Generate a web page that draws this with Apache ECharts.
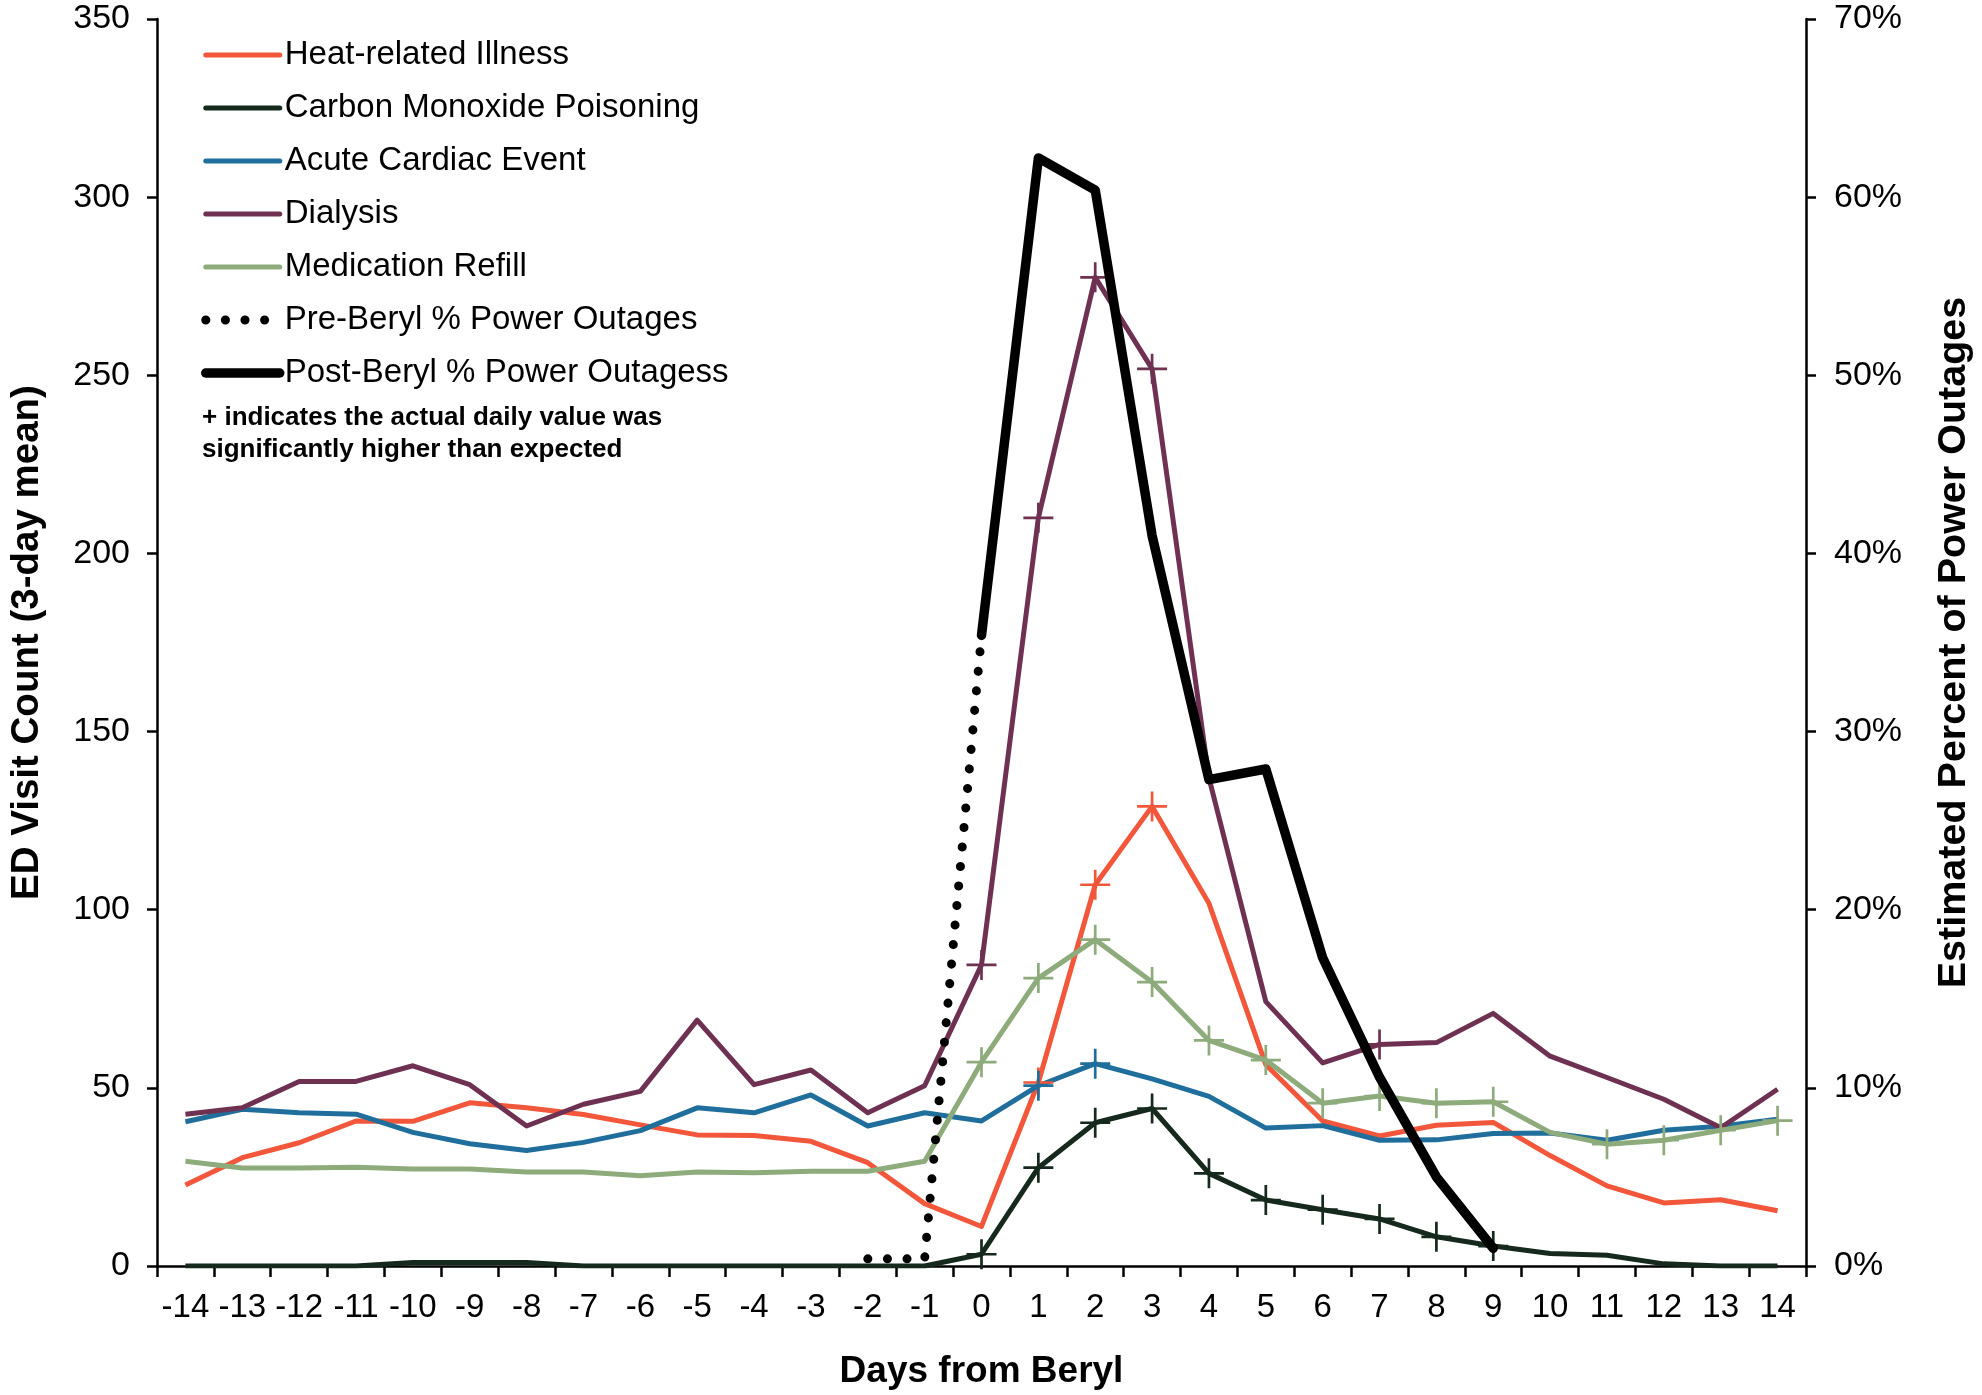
<!DOCTYPE html>
<html><head><meta charset="utf-8">
<script src="https://cdn.jsdelivr.net/npm/echarts@6/dist/echarts.min.js"></script>
<style>html,body{margin:0;padding:0;background:#fff}#c{width:1982px;height:1395px}</style>
</head><body><div id="c"></div>
<script>
const days = ['-14','-13','-12','-11','-10','-9','-8','-7','-6','-5','-4','-3','-2','-1','0','1','2','3','4','5','6','7','8','9','10','11','12','13','14'];
const countTicks = [0, 50, 100, 150, 200, 250, 300, 350];
const heat = [22.7,30.4,34.6,40.7,40.6,45.8,44.4,42.5,39.6,36.8,36.6,35.0,29.0,17.5,11.1,51.5,107,129,101.8,56.5,40.7,36.5,39.5,40.3,31.0,22.5,17.7,18.6,15.5];
const carbonMonoxide = [0,0,0,0,1,1,1,0,0,0,0,0,0,0,3.3,27.6,40.2,44.2,26,18.5,15.8,13.2,8.2,5.6,3.5,3.0,0.6,0,0];
const cardiac = [40.5,44,43,42.6,37.5,34.3,32.4,34.7,38,44.4,43,48,39.3,43,40.7,50.6,56.8,52.5,47.6,38.7,39.4,35.3,35.4,37.2,37.3,35.3,38.1,39.2,41.2];
const dialysis = [42.6,44.4,51.8,51.8,56.2,50.9,39.3,45.4,49,69,50.9,55,43,50.6,84.5,210,277.5,251.8,137,74.2,57,62.2,62.7,70.9,58.9,52.9,46.8,38.8,49.6];
const medRefill = [29.4,27.5,27.5,27.7,27.2,27.2,26.4,26.4,25.3,26.4,26.2,26.6,26.6,29.4,57.2,80.8,91.6,79.7,63.3,57.8,45.7,47.7,45.7,46.1,37.5,34.2,35.3,38.1,40.8];
const preOutage = [null,null,null,null,null,null,null,null,null,null,null,null,0.4,0.4,35.4,null,null,null,null,null,null,null,null,null,null,null,null,null,null];
const postOutage = [null,null,null,null,null,null,null,null,null,null,null,null,null,null,35.4,62.2,60.4,41.0,27.3,27.9,17.3,10.6,5.0,1.0,null,null,null,null,null];
// days (from Beryl) where the actual daily value was significantly higher than expected
const heatSig = [1,2,3];
const coSig = [0,1,2,3,4,5,6,7,8,9];
const cardiacSig = [1,2];
const dialysisSig = [0,1,2,3,7];
const medSig = [0,1,2,3,4,5,6,7,8,9,11,12,13,14];

const PLUS = 'path://M-0.9,-10 L0.9,-10 L0.9,-0.9 L10,-0.9 L10,0.9 L0.9,0.9 L0.9,10 L-0.9,10 L-0.9,0.9 L-10,0.9 L-10,-0.9 L-0.9,-0.9 Z';
function marked(values, sig) {
  return values.map((v, i) => {
    const d = Number(days[i]);
    return sig.indexOf(d) >= 0 ? { value: v, symbol: PLUS, symbolSize: 30 } : { value: v, symbol: 'none' };
  });
}
const FONT = '"Liberation Sans", Arial, sans-serif';
function lineSeries(name, color, values, sig) {
  return {
    name, type: 'line', yAxisIndex: 0, data: marked(values, sig),
    symbol: 'none', showSymbol: true,
    lineStyle: { color, width: 5, join: 'round' },
    itemStyle: { color, borderWidth: 0 },
    emphasis: { disabled: true }, animation: false, z: 3
  };
}
const chart = echarts.init(document.getElementById('c'), null, { renderer: 'canvas' });
chart.setOption({
  backgroundColor: '#ffffff',
  animation: false,
  textStyle: { fontFamily: FONT, color: '#000' },
  grid: { left: 152, right: 160, top: 19, bottom: 113, containLabel: false },
  legend: {
    orient: 'vertical', left: 196, top: 30,
    itemWidth: 74, itemHeight: 16, itemGap: 13,
    textStyle: { fontFamily: FONT, fontSize: 33, color: '#000', lineHeight: 40 },
    itemStyle: { opacity: 0 },
    lineStyle: { width: 'inherit', type: 'inherit', cap: 'round' },
    data: ['Heat-related Illness','Carbon Monoxide Poisoning','Acute Cardiac Event','Dialysis','Medication Refill','Pre-Beryl % Power Outages','Post-Beryl % Power Outagess'],
    selectedMode: false
  },
  graphic: [{
    type: 'text', left: 202, top: 402,
    style: { text: '+ indicates the actual daily value was\nsignificantly higher than expected', font: 'bold 26px ' + FONT, fill: '#000', lineHeight: 32 }
  }],
  xAxis: {
    type: 'category', data: days, boundaryGap: true,
    name: 'Days from Beryl', nameLocation: 'middle', nameGap: 87,
    nameTextStyle: { fontFamily: FONT, fontSize: 37, fontWeight: 'bold', color: '#000' },
    axisLine: { onZero: false, lineStyle: { color: '#000', width: 2.5 } },
    axisTick: { show: true, length: 11, inside: false, lineStyle: { color: '#000', width: 2.5 } },
    axisLabel: { interval: 0, margin: 25, fontSize: 33, color: '#000', fontFamily: FONT },
    splitLine: { show: false }
  },
  yAxis: [{
    type: 'value', min: 0, max: 350, interval: 50, position: 'left',
    name: 'ED Visit Count (3-day mean)', nameLocation: 'middle', nameGap: 110, nameRotate: 90,
    nameTextStyle: { fontFamily: FONT, fontSize: 38.5, fontWeight: 'bold', color: '#000' },
    axisLine: { show: true, lineStyle: { color: '#000', width: 2.5 } },
    axisTick: { show: true, length: 10, lineStyle: { color: '#000', width: 2.5 } },
    axisLabel: { margin: 27, fontSize: 34, color: '#000', fontFamily: FONT,
      formatter: v => countTicks.indexOf(v) >= 0 ? String(v) : '' },
    splitLine: { show: false }
  }, {
    type: 'value', min: 0, max: 70, interval: 10, position: 'right',
    name: 'Estimated Percent of Power Outages', nameLocation: 'middle', nameGap: 128, nameRotate: 90,
    nameTextStyle: { fontFamily: FONT, fontSize: 39.5, fontWeight: 'bold', color: '#000' },
    axisLine: { show: true, lineStyle: { color: '#000', width: 2.5 } },
    axisTick: { show: true, length: 10, lineStyle: { color: '#000', width: 2.5 } },
    axisLabel: { margin: 28, fontSize: 34, color: '#000', fontFamily: FONT, formatter: '{value}%' },
    splitLine: { show: false }
  }],
  series: [
    lineSeries('Heat-related Illness', '#f2573b', heat, heatSig),
    lineSeries('Carbon Monoxide Poisoning', '#15291c', carbonMonoxide, coSig),
    lineSeries('Acute Cardiac Event', '#1f6e9c', cardiac, cardiacSig),
    lineSeries('Dialysis', '#6f3152', dialysis, dialysisSig),
    lineSeries('Medication Refill', '#8dab7b', medRefill, medSig),
    {
      name: 'Pre-Beryl % Power Outages', type: 'line', yAxisIndex: 1, data: preOutage,
      symbol: 'none', connectNulls: false,
      lineStyle: { color: '#000', width: 9, type: [0.1, 19.5], cap: 'round', join: 'round' },
      itemStyle: { color: '#000' }, emphasis: { disabled: true }, z: 4
    },
    {
      name: 'Post-Beryl % Power Outagess', type: 'line', yAxisIndex: 1, data: postOutage,
      symbol: 'none', connectNulls: false,
      lineStyle: { color: '#000', width: 9.5, join: 'round', cap: 'round' },
      itemStyle: { color: '#000' }, emphasis: { disabled: true }, z: 5
    }
  ]
});
</script>
</body></html>
